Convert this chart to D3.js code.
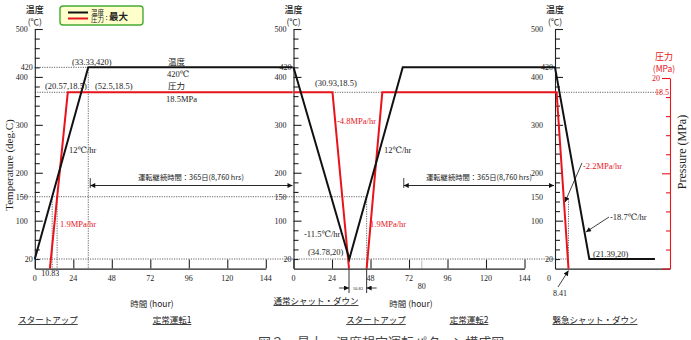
<!DOCTYPE html>
<html>
<head>
<meta charset="utf-8">
<script src="https://cdn.jsdelivr.net/npm/d3@7"></script>
<style>
    body { margin: 0; background: #fff; }
</style>
</head>
<body>
<div id="chart"></div>
<script>
// --- data ---
const hourTicks = [0, 24, 48, 72, 96, 120, 144];
const tempTickLabels = [500, 420, 400, 300, 200, 150, 100, 20];
const tempMinorTicks = d3.range(20, 501, 20);
const pressTicks = d3.range(0, 21, 2);

// [hour, value]
const startupTemp = [[0, 20], [33.33, 420], [160.8, 420]];
const startupPress = [[9.4, 0], [20.57, 18.5], [160.8, 18.5]];
const shutdownTemp = [[0, 420], [34.78, 20], [68.11, 420], [163.3, 420]];
const shutdownPressDown = [[0, 18.5], [24.3, 18.5], [34.6, 0]];
const shutdownPressUp = [[45.6, 0], [55.35, 18.5], [163.3, 18.5]];
const tripTemp = [[0, 420], [21.39, 20], [62.3, 20]];
const tripPress = [[0, 18.5], [1, 18.5], [8.41, 0]];

const red = "#e8141c";
const serif = "'Liberation Serif', 'DejaVu Serif', serif";
const jp = "'Noto Sans CJK JP', sans-serif";

const width = 691, height = 340;

const svg = d3.select("#chart").append("svg")
    .attr("width", width)
    .attr("height", height);

const defs = svg.append("defs");
defs.append("marker")
    .attr("id", "arr")
    .attr("viewBox", "0 0 10 10")
    .attr("refX", 10).attr("refY", 5)
    .attr("markerWidth", 7).attr("markerHeight", 5)
    .attr("markerUnits", "userSpaceOnUse")
    .attr("orient", "auto-start-reverse")
    .append("path").attr("d", "M0,0 L10,5 L0,10 z").attr("fill", "#111");

const yT = d3.scaleLinear().domain([0, 500]).range([268.6, 29]);
const yP = d3.scaleLinear().domain([0, 20]).range([268.6, 78]);

const pxPerHour = 231 / 144;
const panelX = [34.8, 293.5, 555];
const xs = [
    d3.scaleLinear().domain([0, 144]).range([panelX[0], panelX[0] + 144 * pxPerHour]),
    d3.scaleLinear().domain([0, 144]).range([panelX[1], panelX[1] + 144 * pxPerHour]),
    d3.scaleLinear().domain([0, 71.7]).range([panelX[2], panelX[2] + 71.7 * pxPerHour]),
];

function dotted(x1, y1, x2, y2) {
    svg.append("line")
        .attr("x1", x1).attr("y1", y1).attr("x2", x2).attr("y2", y2)
        .attr("stroke", "#555").attr("stroke-width", 0.9)
        .attr("stroke-dasharray", "1.2,1.2");
}

function label(x, y, txt, opts = {}) {
    return svg.append("text")
        .attr("x", x).attr("y", y)
        .attr("font-family", opts.family || serif)
        .attr("font-size", opts.size || 8.5)
        .attr("font-weight", opts.weight || "normal")
        .attr("fill", opts.color || "#222")
        .attr("text-anchor", opts.anchor || "start")
        .attr("text-decoration", opts.underline ? "underline" : null)
        .text(txt);
}

// --- guide lines ---
const xL = xs[0], xM = xs[1], xR = xs[2];
dotted(xL(0), yT(420), xL(33.33), yT(420));
dotted(xL(0), yP(18.5), xL(20.57), yP(18.5));
dotted(xL(33.33), yT(420), xL(33.33), yT(0));
dotted(xL(10.83), yT(150), xL(10.83), yT(0));
dotted(xL(13.9), yT(150), xL(13.9), yT(0));
dotted(20, yT(150), xM(45.6), yT(150));
dotted(xL(0), yT(20), xR(8.41), yT(20));
dotted(xM(24.3), yP(18.5), xM(55.35), yP(18.5));
dotted(xM(45.6), yT(150), xM(45.6), yT(0));
dotted(xR(8.41), yT(145), xR(8.41), yT(0));
dotted(xR(1), yP(18.5), 662, yP(18.5));
svg.append("line")
    .attr("x1", xM(80)).attr("x2", xM(80))
    .attr("y1", yT(0)).attr("y2", yT(0) - 8)
    .attr("stroke", "#aaa").attr("stroke-width", 0.8);

// --- axes ---
xs.forEach((x, i) => {
    const g = svg.append("g");

    // temperature axis, ticks point inwards
    g.append("g")
        .attr("transform", `translate(${panelX[i]},0)`)
        .call(d3.axisRight(yT).tickValues(tempMinorTicks)
            .tickSize(0).tickSizeOuter(0).tickFormat(""))
        .call(a => a.selectAll(".tick line")
            .attr("x2", d => d % 100 === 0 ? 8 : 5))
        .call(a => a.selectAll("path,line").attr("stroke", "#222").attr("stroke-width", 1.1));

    const off = i === 2 ? 12 : 7;
    tempTickLabels.forEach(v => {
        const o = (v === 420 || v === 20) ? 2 : off;
        label(panelX[i] - o, yT(v) + 3, v, { anchor: "end", size: 8 });
    });

    // time axis
    if (i < 2) {
        g.append("g")
            .attr("transform", `translate(0,${yT(0)})`)
            .call(d3.axisTop(x).tickValues(hourTicks).tickSize(9).tickSizeOuter(0).tickFormat(""))
            .call(a => a.selectAll("path,line").attr("stroke", "#222").attr("stroke-width", 1.1));
        hourTicks.forEach(h => label(x(h), 281, h, { anchor: "middle", size: 8 }));
    } else {
        g.append("g")
            .attr("transform", `translate(0,${yT(0)})`)
            .call(d3.axisTop(x).tickValues([]).tickSizeOuter(0))
            .call(a => a.selectAll("path").attr("stroke", "#222").attr("stroke-width", 1.1));
        label(x(0) - 6, 281, 0, { anchor: "middle", size: 8 });
    }

    label(panelX[i], 13, "温度", { family: jp, size: 9, anchor: "middle", weight: "500" });
    label(panelX[i], 25, "(℃)", { family: jp, size: 8.5, anchor: "middle" });
});

// pressure axis on the far right
svg.append("g")
    .attr("transform", "translate(670,0)")
    .call(d3.axisLeft(yP).tickValues(pressTicks).tickSize(0).tickSizeOuter(0).tickFormat(""))
    .call(a => a.selectAll(".tick line").attr("x2", d => d % 10 === 0 ? -8 : -4))
    .call(a => a.selectAll("path,line").attr("stroke", red).attr("stroke-width", 1.1));

label(656, yP(20) + 3, "20", { color: red, size: 8, anchor: "middle" });
label(662, yP(18.5) + 3, "18.5", { color: red, size: 8, anchor: "middle" });
label(664, 60, "圧力", { color: red, family: jp, size: 9, anchor: "middle" });
label(664, 72, "(MPa)", { color: red, family: jp, size: 8.5, anchor: "middle" });

svg.append("text")
    .attr("transform", "translate(686,152) rotate(-90)")
    .attr("text-anchor", "middle")
    .attr("font-family", serif).attr("font-size", 12).attr("fill", "#222")
    .text("Pressure (MPa)");
svg.append("text")
    .attr("transform", "translate(13,165) rotate(-90)")
    .attr("text-anchor", "middle")
    .attr("font-family", serif).attr("font-size", 11).attr("fill", "#222")
    .text("Temperature (deg.C)");

// --- the curves ---
function drawLine(data, x, y, color) {
    svg.append("path")
        .datum(data)
        .attr("d", d3.line().x(d => x(d[0])).y(d => y(d[1])))
        .attr("fill", "none")
        .attr("stroke", color)
        .attr("stroke-width", 2)
        .attr("stroke-linejoin", "miter");
}

drawLine(startupPress, xL, yP, red);
drawLine(shutdownPressDown, xM, yP, red);
drawLine(shutdownPressUp, xM, yP, red);
drawLine(tripPress, xR, yP, red);
drawLine(startupTemp, xL, yT, "#111");
drawLine(shutdownTemp, xM, yT, "#111");
drawLine(tripTemp, xR, yT, "#111");

// --- annotations ---
label(72, 65, "(33.33,420)");
label(45, 89, "(20.57,18.5)");
label(95, 89, "(52.5,18.5)");
label(168, 65, "温度", { family: jp, size: 8.5 });
label(167, 77, "420℃");
label(168, 89, "圧力", { family: jp, size: 8.5 });
label(166, 102, "18.5MPa");
label(69, 153, "12℃/hr");
label(60, 227, "1.9MPa/hr", { color: red });
label(xL(10.83) - 2, 276, "10.83", { anchor: "middle", size: 8 });

label(315, 86, "(30.93,18.5)");
label(337, 124, "-4.8MPa/hr", { color: red });
label(384, 153, "12℃/hr");
label(370, 227, "1.9MPa/hr", { color: red });
label(304, 237, "-11.5℃/hr");
label(308, 255, "(34.78,20)");
label(xM(80), 289, "80", { anchor: "middle", size: 8 });

label(593, 257, "(21.39,20)");
label(583, 169, "-2.2MPa/hr", { color: red });
label(610, 220, "-18.7℃/hr");
label(560, 296, "8.41", { anchor: "middle", size: 8 });

// pointer arrows
function pointer(x1, y1, x2, y2) {
    svg.append("line")
        .attr("x1", x1).attr("y1", y1).attr("x2", x2).attr("y2", y2)
        .attr("stroke", "#111").attr("stroke-width", 0.8)
        .attr("marker-end", "url(#arr)");
}
pointer(582, 163, 565, 202);
pointer(609, 217, 586, 232);
pointer(558, 287, xR(8.41), yT(0) + 2);

// operating-period arrows
[[xL(33.33) + 2, xM(0) - 1, 191], [xM(68.11) + 1, xR(0) - 1, 479]].forEach(([a, b, mid]) => {
    svg.append("line").attr("x1", a).attr("x2", a).attr("y1", 178).attr("y2", 188)
        .attr("stroke", "#111").attr("stroke-width", 0.8);
    svg.append("line").attr("x1", a).attr("x2", b).attr("y1", 185.5).attr("y2", 185.5)
        .attr("stroke", "#111").attr("stroke-width", 0.9)
        .attr("marker-start", "url(#arr)").attr("marker-end", "url(#arr)");
    label(mid, 180, "運転継続時間：365日(8,760 hrs)", { family: jp, size: 7.3, anchor: "middle" });
});

// 10.83 h dimension under the middle axis
[xM(34.6), xM(45.6)].forEach(x => {
    svg.append("line").attr("x1", x).attr("x2", x).attr("y1", yT(0)).attr("y2", 293)
        .attr("stroke", "#333").attr("stroke-width", 1);
});
pointer(xM(34.6) - 10, 288, xM(34.6), 288);
pointer(xM(45.6) + 10, 288, xM(45.6), 288);
label((xM(34.6) + xM(45.6)) / 2, 290, "10.83", { anchor: "middle", size: 4.5 });

// legend
svg.append("rect")
    .attr("x", 60).attr("y", 6).attr("width", 83).attr("height", 19).attr("rx", 3)
    .attr("fill", "#ffffcc").attr("stroke", "#44aa33").attr("stroke-width", 1.4);
svg.append("line").attr("x1", 68).attr("x2", 88).attr("y1", 12.5).attr("y2", 12.5)
    .attr("stroke", "#111").attr("stroke-width", 2);
svg.append("line").attr("x1", 68).attr("x2", 88).attr("y1", 18.5).attr("y2", 18.5)
    .attr("stroke", red).attr("stroke-width", 2);
label(91, 14.5, "温度", { family: jp, size: 6.5 });
label(91, 21.5, "圧力", { family: jp, size: 6.5 });
label(105.5, 19.5, ":", { family: jp, size: 8 });
label(109, 20, "最大", { family: jp, size: 9.5, weight: "bold" });

// bottom captions
const jpOpts = { family: jp, size: 8.5, anchor: "middle" };
label(152, 307, "時間 (hour)", jpOpts);
label(411, 307, "時間 (hour)", jpOpts);
label(48, 323, "スタートアップ", { ...jpOpts, underline: true });
label(172, 323, "定常運転1", { ...jpOpts, underline: true });
label(316, 304, "通常シャット・ダウン", { ...jpOpts, underline: true });
label(376, 323, "スタートアップ", { ...jpOpts, underline: true });
label(469, 323, "定常運転2", { ...jpOpts, underline: true });
label(595, 323, "緊急シャット・ダウン", { ...jpOpts, underline: true });

label(258, 347, "図２　最大・温度想定運転パターン構成図", { family: jp, size: 13, color: "#444" });
</script>
</body>
</html>
